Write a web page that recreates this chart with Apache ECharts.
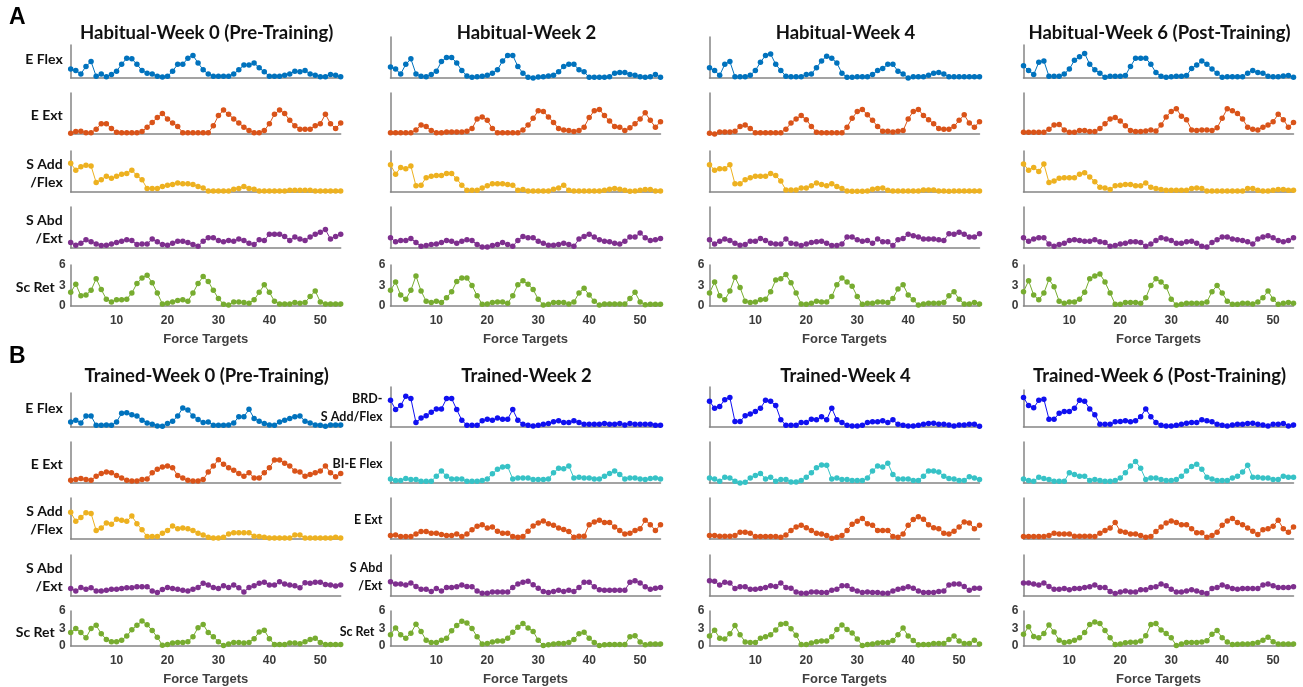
<!DOCTYPE html>
<html>
<head>
<meta charset="utf-8">
<script src="https://cdn.jsdelivr.net/npm/echarts@6/dist/echarts.min.js"></script>
<style>
html, body { margin: 0; background: #fff; }
#chart { width: 1303px; height: 687px; }
</style>
</head>
<body>
<div id="chart"></div>
<script>
// force targets 1..54 on the x axis
const targets = Array.from({ length: 54 }, (_, i) => i + 1);
const xTicks = [10, 20, 30, 40, 50];

// --- A: habitual, week 0 ---
const hab0EFlex = [1.3,1.1,0.6,1.7,2.4,0.25,0.6,0.2,0.5,1.0, 2.0,2.9,2.8,2.0,1.1,0.7,0.6,0.25,0.15,0.25, 1.0,2.0,2.0,2.9,3.3,2.2,1.2,0.6,0.25,0.25, 0.25,0.25,0.6,1.2,1.9,1.9,2.2,1.5,0.9,0.25, 0.25,0.25,0.4,0.6,1.0,0.9,1.1,0.6,0.4,0.2, 0.2,0.5,0.4,0.2];
const hab0EExt = [0.1,0.35,0.4,0.2,0.2,0.7,1.5,1.5,0.8,0.25, 0.2,0.2,0.2,0.2,0.35,1.0,1.7,2.4,3.0,2.2, 1.6,1.1,0.2,0.2,0.2,0.2,0.2,0.2,1.2,2.7, 3.5,2.9,2.2,1.6,1.0,0.5,0.2,0.2,0.5,1.5, 2.9,3.5,3.0,2.0,1.2,0.7,0.7,0.7,1.2,1.5, 2.9,1.5,0.8,1.6];
const hab0SAdd = [4.2,3.2,3.7,3.9,3.8,1.4,1.8,2.3,2.0,2.3, 2.6,2.7,3.2,2.4,1.8,0.5,0.5,0.5,0.8,1.0, 1.1,1.3,1.2,1.2,1.1,0.8,0.6,0.15,0.15,0.15, 0.15,0.15,0.4,0.5,0.8,0.5,0.4,0.15,0.15,0.15, 0.15,0.15,0.15,0.25,0.25,0.25,0.25,0.25,0.15,0.15, 0.15,0.15,0.15,0.15];
const hab0SAbd = [0.8,0.4,0.7,1.2,0.9,0.6,0.35,0.4,0.6,0.8, 1.0,1.2,1.1,0.5,0.6,0.6,1.3,0.9,0.5,0.4, 0.7,1.0,1.0,0.8,0.5,0.25,1.0,1.5,1.5,1.1, 0.9,1.1,1.0,1.3,1.1,0.7,0.5,1.2,1.1,2.0, 2.0,2.0,1.7,1.1,1.6,1.3,1.1,1.6,2.0,2.3, 2.7,1.3,1.7,2.0];
const hab0ScRet = [2.0,3.2,1.5,1.6,2.3,4.0,2.4,1.0,0.6,0.9, 0.9,1.0,1.9,3.3,4.1,4.5,3.4,1.9,0.3,0.4, 0.6,0.8,0.9,0.7,1.9,3.3,4.3,3.6,2.3,1.1, 0.25,0.15,0.6,0.6,0.5,0.4,0.9,2.0,3.1,2.0, 0.7,0.3,0.3,0.3,0.5,0.4,0.5,1.4,2.2,0.6, 0.3,0.3,0.3,0.3];

// --- A: habitual, week 2 ---
const hab2EFlex = [1.6,1.3,0.6,2.0,2.8,0.6,0.25,0.2,0.5,1.0, 2.4,3.0,3.0,2.2,1.1,0.3,0.1,0.2,0.25,0.4, 0.7,1.2,2.5,3.3,3.3,1.7,0.7,0.1,0.0,0.15, 0.2,0.3,0.4,0.9,1.7,2.0,2.0,1.2,0.9,0.1, 0.1,0.1,0.1,0.2,0.7,0.8,0.8,0.5,0.4,0.2, 0.1,0.2,0.5,0.1];
const hab2EExt = [0.2,0.2,0.2,0.2,0.2,0.6,1.3,1.1,0.5,0.2, 0.2,0.3,0.3,0.3,0.3,0.4,0.8,2.2,2.5,2.0, 0.8,0.2,0.2,0.2,0.2,0.2,0.6,1.3,2.3,3.4, 3.3,2.5,1.7,0.8,0.6,0.5,0.35,0.5,1.0,2.4, 3.4,3.6,2.7,1.9,1.1,1.0,0.5,0.9,1.5,2.2, 3.1,2.0,1.0,1.8];
const hab2SAdd = [4.0,2.6,3.6,3.4,3.8,0.9,1.0,2.1,2.3,2.4, 2.4,2.7,2.7,1.9,1.0,0.25,0.25,0.25,0.6,0.9, 1.2,1.2,1.2,1.1,1.0,0.25,0.35,0.15,0.15,0.15, 0.15,0.15,0.4,0.6,1.0,0.25,0.15,0.15,0.15,0.15, 0.15,0.15,0.25,0.4,0.5,0.4,0.25,0.1,0.15,0.25, 0.35,0.35,0.15,0.15];
const hab2SAbd = [1.5,0.9,1.1,1.1,1.4,0.8,0.25,0.35,0.5,0.6, 0.8,1.1,1.0,0.7,1.0,1.2,1.1,0.5,0.15,0.15, 0.35,0.5,0.8,0.5,0.25,1.1,1.7,1.5,1.5,1.0, 0.7,0.4,0.4,0.5,0.7,0.5,0.25,1.3,1.7,2.0, 1.6,1.2,1.0,0.9,0.7,0.6,1.0,1.6,1.6,2.2, 1.5,1.1,1.2,1.4];
const hab2ScRet = [2.3,3.5,1.6,1.0,2.3,4.4,2.2,0.7,0.5,0.7, 0.5,1.2,2.1,3.6,4.1,4.1,3.0,1.5,0.25,0.3, 0.5,0.6,0.6,0.4,1.5,3.1,3.7,3.2,2.4,1.0, 0.15,0.25,0.5,0.5,0.5,0.3,0.6,1.9,2.6,1.6, 0.7,0.15,0.3,0.3,0.3,0.3,0.3,1.1,2.0,0.6, 0.2,0.25,0.25,0.25];

// --- A: habitual, week 4 ---
const hab4EFlex = [1.5,1.1,0.4,2.0,2.4,0.2,0.2,0.2,0.4,1.1, 2.3,3.3,3.5,2.0,1.1,0.25,0.2,0.2,0.2,0.5, 0.6,1.5,2.5,3.2,2.9,2.2,0.7,0.1,0.1,0.2, 0.2,0.2,0.5,1.1,1.4,2.0,2.0,1.0,0.6,0.0, 0.2,0.2,0.2,0.4,0.7,0.8,0.6,0.2,0.2,0.2, 0.2,0.2,0.2,0.2];
const hab4EExt = [0.1,0.0,0.3,0.3,0.3,0.4,1.1,1.3,0.8,0.2, 0.2,0.2,0.2,0.2,0.2,0.7,1.6,2.2,2.7,2.1, 1.1,0.25,0.2,0.2,0.2,0.2,0.2,1.0,2.3,3.3, 3.6,2.8,2.0,1.1,0.4,0.4,0.3,0.4,0.5,2.2, 3.3,3.6,2.7,2.1,1.5,0.8,0.7,0.7,1.1,2.0, 2.8,1.6,1.0,1.8];
const hab4SAdd = [4.0,3.2,3.4,3.4,4.0,1.2,1.2,1.8,2.1,2.3, 2.3,2.3,2.7,2.4,1.6,0.3,0.3,0.3,0.6,0.6, 0.9,1.3,1.1,0.9,1.2,0.8,0.5,0.15,0.1,0.1, 0.1,0.15,0.4,0.5,0.6,0.25,0.15,0.15,0.15,0.15, 0.15,0.15,0.3,0.3,0.3,0.15,0.15,0.1,0.15,0.15, 0.15,0.15,0.15,0.15];
const hab4SAbd = [1.2,0.6,1.0,1.3,1.1,0.7,0.4,0.5,1.0,1.0, 1.4,1.1,0.7,0.6,0.6,1.3,0.7,0.6,0.35,0.6, 0.8,0.9,1.0,0.7,0.35,0.35,0.6,1.6,1.6,1.2, 1.0,1.1,0.7,1.3,0.9,0.9,0.35,1.2,1.4,2.0, 1.8,1.6,1.3,1.3,1.3,1.2,1.1,2.1,2.0,2.3, 2.0,1.6,1.6,2.1];
const hab4ScRet = [1.9,3.5,1.5,0.9,2.2,4.2,2.7,0.7,0.5,0.6, 0.9,1.0,2.1,3.8,4.0,4.6,3.4,1.9,0.3,0.25, 0.4,0.7,0.6,0.6,1.4,3.1,4.1,3.5,2.9,1.4, 0.25,0.4,0.4,0.6,0.6,0.5,1.1,2.5,3.1,1.6, 0.9,0.15,0.3,0.4,0.4,0.4,0.5,1.5,2.1,1.0, 0.3,0.3,0.5,0.3];

// --- A: habitual, week 6 ---
const hab6EFlex = [1.8,1.1,0.5,2.3,2.5,0.25,0.25,0.25,0.6,1.3, 2.6,3.1,3.6,2.0,1.2,0.7,0.1,0.25,0.25,0.25, 0.35,1.7,2.9,2.9,2.9,2.0,0.8,0.25,0.1,0.2, 0.25,0.25,0.35,1.4,1.9,2.5,2.0,1.3,0.7,0.1, 0.2,0.2,0.2,0.2,0.7,1.1,0.8,0.7,0.25,0.2, 0.2,0.3,0.35,0.1];
const hab6EExt = [0.25,0.25,0.25,0.25,0.25,0.7,1.3,1.4,0.6,0.25, 0.25,0.5,0.5,0.35,0.35,0.8,1.5,2.2,2.4,1.9, 1.2,0.5,0.35,0.35,0.45,0.6,0.45,1.3,2.5,3.3, 3.7,2.6,2.1,0.6,0.5,0.6,0.6,0.5,0.9,2.3, 3.7,3.4,3.0,2.2,1.0,0.7,0.6,1.0,1.3,1.8, 2.9,2.1,1.0,1.7];
const hab6SAdd = [4.1,3.2,3.6,3.0,4.1,1.4,1.6,2.0,2.1,2.1, 2.1,2.6,2.8,2.2,1.5,0.7,0.6,0.35,0.9,1.0, 1.1,1.1,0.9,0.9,1.3,0.7,0.5,0.35,0.25,0.25, 0.25,0.25,0.25,0.5,0.6,0.5,0.15,0.15,0.15,0.15, 0.15,0.15,0.15,0.15,0.5,0.5,0.25,0.15,0.15,0.25, 0.35,0.35,0.25,0.25];
const hab6SAbd = [1.5,1.0,1.3,1.5,1.5,0.6,0.25,0.5,0.7,1.1, 1.2,1.1,1.0,1.0,1.2,0.9,0.8,0.25,0.35,0.6, 0.7,0.9,0.9,0.8,0.25,0.6,1.1,1.5,1.3,1.1, 0.7,0.7,0.9,1.0,0.7,0.25,0.15,0.8,1.2,1.6, 1.6,1.3,1.2,1.1,0.9,0.6,1.3,1.6,1.8,1.5, 1.1,0.9,1.1,1.5];
const hab6ScRet = [2.1,3.7,1.6,0.9,1.9,3.9,2.8,0.7,0.4,0.6, 0.6,1.0,2.0,4.0,4.4,4.7,3.5,1.9,0.25,0.25, 0.5,0.5,0.5,0.4,1.2,3.0,4.0,3.5,2.8,1.0, 0.15,0.25,0.4,0.4,0.4,0.4,0.6,2.1,3.0,1.9, 0.7,0.25,0.25,0.4,0.4,0.3,0.6,1.2,2.2,1.0, 0.25,0.4,0.5,0.4];

// --- B: trained, week 0 ---
const tr0EFlex = [0.75,1.0,0.6,1.6,1.6,0.25,0.25,0.3,0.25,0.75, 2.0,2.1,1.8,1.6,1.0,0.6,0.4,0.15,0.1,0.5, 0.85,1.6,2.8,2.5,1.6,1.1,0.65,0.75,0.25,0.25, 0.25,0.3,0.6,1.5,1.5,2.6,1.25,0.85,0.5,0.3, 0.25,0.75,1.0,1.25,1.5,1.6,0.85,0.6,0.3,0.25, 0.1,0.3,0.3,0.3];
const tr0EExt = [0.4,0.5,0.65,0.5,0.4,1.0,1.4,1.6,1.5,1.1, 0.75,0.4,0.3,0.3,0.5,0.6,1.5,2.0,2.35,2.5, 2.25,1.1,0.75,0.4,0.3,0.3,0.5,1.6,2.5,3.4, 2.75,2.25,1.85,1.4,1.0,1.5,0.75,0.75,1.5,2.25, 3.35,3.35,2.9,2.5,1.75,1.6,1.0,1.25,1.5,1.75, 2.5,1.5,0.9,1.4];
const tr0SAdd = [3.9,2.6,3.15,3.85,3.75,1.25,1.6,2.35,2.15,2.9, 2.75,2.6,3.35,2.25,1.35,0.35,0.35,0.35,0.85,1.25, 1.9,1.5,1.6,1.5,1.25,0.85,0.6,0.25,0.15,0.15, 0.25,0.75,0.9,0.9,0.9,0.9,0.4,0.35,0.25,0.15, 0.15,0.15,0.15,0.15,0.6,0.6,0.15,0.15,0.15,0.15, 0.15,0.15,0.25,0.15];
const tr0SAbd = [1.1,0.75,1.25,1.0,1.2,0.75,0.75,0.85,1.0,1.0, 1.1,1.2,1.2,1.35,1.35,1.35,0.75,0.5,0.95,1.25, 1.1,1.0,0.85,0.75,1.0,1.25,1.85,1.6,1.25,1.1, 1.5,1.25,1.6,1.2,0.6,1.25,1.5,1.85,2.0,1.6, 1.6,2.1,1.75,1.6,1.5,1.2,1.95,1.85,2.0,2.0, 1.7,1.6,1.45,1.6];
const tr0ScRet = [2.3,3.0,2.3,1.4,3.0,3.55,2.1,1.1,0.75,0.75, 1.0,1.7,2.8,3.55,4.3,3.65,2.65,1.5,0.15,0.25, 0.5,0.6,0.6,0.75,1.6,3.15,3.7,2.3,1.6,0.75, 0.1,0.35,0.6,0.6,0.5,0.6,1.25,2.4,2.7,1.25, 0.25,0.25,0.25,0.5,0.5,0.4,0.75,1.1,1.35,0.6, 0.25,0.25,0.25,0.25];

// --- B: trained, week 2 ---
const tr2BrdSAdd = [3.9,2.55,3.15,4.5,4.15,0.65,1.3,1.65,2.15,2.65, 2.65,4.15,4.15,2.55,1.0,0.25,0.25,0.25,0.9,1.15, 1.0,1.3,1.15,1.15,2.55,1.0,0.4,0.25,0.15,0.25, 0.4,0.5,0.75,0.9,0.65,0.65,0.9,0.65,0.4,0.4, 0.4,0.4,0.5,0.4,0.4,0.5,0.3,0.5,0.4,0.4, 0.4,0.4,0.25,0.25];
const tr2BiEFlex = [0.6,0.35,0.35,0.65,0.5,0.5,0.25,0.25,0.25,1.0, 1.75,1.0,0.6,0.6,0.6,0.25,0.25,0.25,0.35,0.6, 1.35,2.0,2.35,2.4,0.6,0.75,0.75,0.75,0.5,0.5, 0.5,0.6,1.5,2.15,2.1,2.5,0.75,0.85,0.75,0.75, 0.6,0.6,1.0,1.4,1.75,1.25,0.6,0.75,0.75,0.6, 0.5,0.65,0.75,0.6];
const tr2EExt = [0.5,0.6,0.35,0.35,0.35,0.75,1.1,1.1,0.85,0.85, 0.65,0.5,0.5,0.75,0.35,0.75,1.35,1.85,2.1,1.6, 1.75,1.15,0.85,0.85,0.35,0.25,0.35,1.15,1.9,2.35, 2.65,2.25,2.0,1.6,1.4,1.1,0.25,0.4,0.4,2.1, 2.5,2.75,2.4,2.4,1.75,1.25,0.75,0.85,1.25,1.5, 2.75,2.1,1.25,2.1];
const tr2SAbd = [2.1,1.75,1.75,1.6,1.9,1.4,1.0,1.0,0.65,1.1, 0.75,1.25,1.25,1.35,1.6,1.4,1.35,0.75,0.4,0.4, 0.6,0.6,0.6,0.6,1.25,1.75,2.0,2.15,1.65,1.15, 0.65,0.5,0.65,0.85,0.65,0.85,0.65,1.25,2.0,2.0, 1.35,0.9,0.85,0.85,0.85,0.85,0.85,2.0,2.25,1.9, 1.35,1.0,1.15,1.25];
const tr2ScRet = [1.95,3.1,1.95,1.35,2.2,3.75,2.5,1.0,0.6,0.6, 1.0,1.35,2.6,3.5,4.25,3.95,3.0,1.6,0.35,0.45, 0.7,0.85,0.85,1.35,2.35,3.2,3.85,3.1,2.5,1.0, 0.1,0.2,0.35,0.45,0.45,0.6,1.1,2.1,2.35,1.35, 0.6,0.1,0.2,0.25,0.25,0.25,0.25,1.6,1.75,0.7, 0.2,0.35,0.35,0.35];

// --- B: trained, week 4 ---
const tr4BrdSAdd = [3.75,2.75,3.0,4.0,4.3,0.8,0.8,1.65,1.9,2.25, 2.75,3.9,3.75,3.15,1.05,0.25,0.25,0.25,0.65,0.65, 1.15,1.05,1.5,1.05,2.75,1.05,0.65,0.25,0.15,0.15, 0.25,0.65,0.75,0.75,0.9,0.65,1.05,0.4,0.25,0.15, 0.15,0.25,0.4,0.5,0.55,0.4,0.4,0.3,0.15,0.3, 0.3,0.4,0.4,0.1];
const tr4BiEFlex = [0.75,0.6,0.25,0.85,0.75,0.25,0.0,0.1,0.75,1.1, 1.4,0.6,0.85,0.25,0.5,0.5,0.15,0.15,0.35,0.85, 1.5,2.25,2.65,2.6,0.6,0.75,0.5,0.5,0.35,0.35, 0.35,0.75,1.75,2.5,2.35,2.9,1.25,0.6,0.6,0.6, 0.35,0.35,1.0,1.75,1.75,1.6,1.0,0.65,0.6,0.35, 0.35,0.9,0.75,0.5];
const tr4EExt = [0.5,0.5,0.4,0.4,0.4,0.5,1.0,1.0,0.85,0.35, 0.35,0.35,0.35,0.35,0.25,0.6,1.25,1.75,2.0,1.65, 1.25,0.85,0.75,0.5,0.1,0.25,0.5,1.25,2.15,2.6, 3.0,2.25,2.0,1.25,1.25,1.25,0.35,0.25,0.75,2.0, 2.85,3.25,2.9,2.1,1.65,1.5,0.85,0.75,1.15,1.75, 2.5,2.35,1.5,2.0];
const tr4SAbd = [2.25,2.15,1.6,2.0,1.9,1.1,1.35,1.35,1.0,1.0, 1.1,1.25,1.5,1.4,1.9,1.25,1.15,0.6,0.4,0.4, 0.6,0.6,0.5,0.5,0.85,1.0,1.5,1.5,1.0,0.75, 0.5,0.6,0.5,0.5,0.4,0.4,0.75,1.0,1.15,1.35, 1.15,0.75,0.5,0.5,0.5,0.65,0.75,1.6,1.75,1.75, 1.4,0.85,1.15,1.15];
const tr4ScRet = [1.7,2.7,1.35,1.2,2.1,3.5,1.95,0.7,0.6,0.6, 1.35,1.6,1.95,2.75,3.75,3.85,2.95,1.85,0.25,0.25, 0.5,0.75,0.85,0.85,1.6,2.85,3.6,2.85,2.25,1.2, 0.1,0.25,0.35,0.5,0.6,0.6,0.95,1.95,3.1,1.7, 0.95,0.2,0.25,0.25,0.45,0.45,0.45,1.1,1.7,0.85, 0.45,0.45,1.0,0.35];

// --- B: trained, week 6 ---
const tr6BrdSAdd = [4.3,3.15,2.8,3.9,4.05,1.15,1.15,2.0,2.25,2.25, 2.75,3.9,3.75,2.65,1.8,0.4,0.4,0.4,0.75,0.8, 0.9,0.75,0.9,1.5,2.65,1.5,0.65,0.25,0.15,0.15, 0.25,0.4,0.55,0.65,0.65,1.05,0.9,0.75,0.4,0.25, 0.15,0.3,0.4,0.4,0.5,0.55,0.4,0.3,0.15,0.4, 0.4,0.5,0.15,0.3];
const tr6BiEFlex = [0.6,0.35,0.25,0.85,0.65,0.5,0.25,0.25,0.25,1.5, 1.25,1.0,1.0,0.35,0.5,0.35,0.25,0.25,0.35,0.75, 1.5,2.5,3.15,2.15,0.5,0.75,0.75,0.5,0.35,0.35, 0.5,1.0,1.75,2.4,2.75,2.0,0.85,0.6,0.35,0.35, 0.35,0.75,1.0,1.6,2.6,0.85,0.85,0.75,0.75,0.5, 0.5,1.0,0.85,0.85];
const tr6EExt = [0.35,0.35,0.35,0.35,0.35,0.5,0.85,0.75,0.75,0.75, 0.4,0.4,0.4,0.4,0.35,0.85,1.25,1.6,2.4,1.15, 1.0,0.75,0.75,0.5,0.25,0.35,1.1,1.75,2.35,2.65, 2.4,2.1,2.1,1.5,0.9,0.9,0.25,0.5,1.0,2.0, 2.65,3.0,2.4,2.1,1.6,1.15,0.65,1.35,1.5,1.85, 2.75,1.5,1.0,1.75];
const tr6SAbd = [1.9,1.9,1.75,1.6,1.9,1.4,1.0,1.0,1.1,0.9, 1.1,1.1,1.25,1.35,1.6,1.25,1.25,0.65,0.35,0.6, 0.75,0.6,0.6,0.9,0.9,1.25,1.35,1.75,1.5,1.0, 0.6,0.6,0.75,0.9,0.75,0.5,0.35,1.1,1.25,1.6, 1.35,1.1,1.0,1.1,1.1,1.1,1.1,1.6,1.75,1.5, 1.25,1.25,1.25,1.35];
const tr6ScRet = [2.0,3.3,1.65,1.4,2.15,3.6,2.4,1.0,0.6,0.75, 1.0,1.4,2.3,3.7,4.1,3.85,2.65,1.4,0.25,0.35, 0.55,0.65,0.65,0.85,1.75,3.7,3.85,2.75,2.15,1.4, 0.1,0.35,0.6,0.6,0.6,0.7,0.9,2.0,2.65,1.4, 0.7,0.25,0.3,0.35,0.35,0.45,0.6,1.0,1.5,0.75, 0.35,0.35,0.35,0.35];

const habLabels = ['E Flex', 'E Ext', 'S Add\n/Flex', 'S Abd\n/Ext', 'Sc Ret'];
const brdLabels = ['BRD-\nS Add/Flex', 'BI-E Flex', 'E Ext', 'S Abd\n/Ext', 'Sc Ret'];

const C_EFLEX = '#0072BD', C_EEXT = '#D95319', C_SADD = '#EDB120',
      C_SABD = '#7E2F8E', C_SCRET = '#77AC30', C_BRD = '#1010F0', C_BI = '#36C2C6';
const habColors = [C_EFLEX, C_EEXT, C_SADD, C_SABD, C_SCRET];
const brdColors = [C_BRD, C_BI, C_EEXT, C_SABD, C_SCRET];

// layout
const colLeft = [70.7, 390.5, 709.5, 1023.5];
const plotW = 270;
const rowBase = [[78, 134, 192, 248, 306], [427, 483, 539, 596, 651]];
const rowTop = [[0, 93, 151, 207, 265], [0, 442, 498, 555, 611]];
const firstTop = [[45, 37, 37, 45], [393, 387, 387, 390]];
const titleY = [33, 376];
const pxPerUnit = 41 / 6;

const panels = [
  { sec: 0, col: 0, title: 'Habitual-Week 0 (Pre-Training)', rows: [hab0EFlex, hab0EExt, hab0SAdd, hab0SAbd, hab0ScRet], colors: habColors, labels: habLabels },
  { sec: 0, col: 1, title: 'Habitual-Week 2', rows: [hab2EFlex, hab2EExt, hab2SAdd, hab2SAbd, hab2ScRet], colors: habColors },
  { sec: 0, col: 2, title: 'Habitual-Week 4', rows: [hab4EFlex, hab4EExt, hab4SAdd, hab4SAbd, hab4ScRet], colors: habColors },
  { sec: 0, col: 3, title: 'Habitual-Week 6 (Post-Training)', rows: [hab6EFlex, hab6EExt, hab6SAdd, hab6SAbd, hab6ScRet], colors: habColors },
  { sec: 1, col: 0, title: 'Trained-Week 0 (Pre-Training)', rows: [tr0EFlex, tr0EExt, tr0SAdd, tr0SAbd, tr0ScRet], colors: habColors, labels: habLabels },
  { sec: 1, col: 1, title: 'Trained-Week 2', rows: [tr2BrdSAdd, tr2BiEFlex, tr2EExt, tr2SAbd, tr2ScRet], colors: brdColors, labels: brdLabels, small: true },
  { sec: 1, col: 2, title: 'Trained-Week 4', rows: [tr4BrdSAdd, tr4BiEFlex, tr4EExt, tr4SAbd, tr4ScRet], colors: brdColors },
  { sec: 1, col: 3, title: 'Trained-Week 6 (Post-Training)', rows: [tr6BrdSAdd, tr6BiEFlex, tr6EExt, tr6SAbd, tr6ScRet], colors: brdColors }
];

const AXIS = '#858585';
const grid = [], xAxis = [], yAxis = [], series = [], graphic = [];

graphic.push({ type: 'text', left: 9, top: 6, style: { text: 'A', font: 'bold 23px Arial', fill: '#000' } });
graphic.push({ type: 'text', left: 9, top: 345, style: { text: 'B', font: 'bold 23px Arial', fill: '#000' } });

panels.forEach(p => {
  const left = colLeft[p.col];
  graphic.push({
    type: 'text', x: left + plotW / 2 + 1, y: titleY[p.sec],
    style: { text: p.title, font: 'bold 18.5px Lato', fill: '#111', align: 'center', verticalAlign: 'middle' }
  });
  p.rows.forEach((vals, r) => {
    const idx = grid.length;
    const base = rowBase[p.sec][r];
    const top = r === 0 ? firstTop[p.sec][p.col] : rowTop[p.sec][r];
    const h = base - top;
    const last = r === 4;
    grid.push({ left: left, top: top, width: plotW, height: h });
    xAxis.push({
      type: 'value', gridIndex: idx, min: 1, max: 54,
      axisLine: { show: true, lineStyle: { color: AXIS, width: 1.5 } },
      axisTick: { show: false }, splitLine: { show: false },
      axisLabel: last ? { show: true, customValues: xTicks, margin: 9, fontSize: 12, fontWeight: 'bold', color: '#3a3a3a', fontFamily: 'Arial' } : { show: false },
      name: last ? 'Force Targets' : '', nameLocation: 'middle', nameGap: 27,
      nameTextStyle: { fontSize: 13, fontWeight: 'bold', color: '#404040', fontFamily: 'Arial' }
    });
    yAxis.push({
      type: 'value', gridIndex: idx, min: 0, max: last ? 6 : +(h / pxPerUnit).toFixed(2),
      interval: last ? 3 : null,
      axisLine: { show: true, lineStyle: { color: AXIS, width: 1.5 } },
      axisTick: { show: false }, splitLine: { show: false },
      axisLabel: last ? { show: true, margin: 5, fontSize: 12, fontWeight: 'bold', color: '#3a3a3a', fontFamily: 'Arial' } : { show: false }
    });
    series.push({
      type: 'line', xAxisIndex: idx, yAxisIndex: idx,
      data: vals.map((v, i) => [targets[i], v]),
      symbol: 'circle', symbolSize: 5.5, showSymbol: true,
      color: p.colors[r], lineStyle: { width: 1, color: p.colors[r] },
      itemStyle: { color: p.colors[r] }, silent: true, animation: false
    });
    if (p.labels) {
      const txt = p.labels[r];
      const rightX = last ? left - 16 : left - 8;
      graphic.push({
        type: 'text', x: rightX, y: base - 19,
        style: {
          text: txt, font: (p.small ? 'bold 12.5px Lato' : 'bold 14px Lato'), fill: '#111',
          align: 'right', verticalAlign: 'middle', lineHeight: 18
        }
      });
    }
  });
});

const chart = echarts.init(document.getElementById('chart'), null, { renderer: 'canvas' });
chart.setOption({
  animation: false,
  backgroundColor: '#fff',
  grid, xAxis, yAxis, series, graphic
});
</script>
</body>
</html>
